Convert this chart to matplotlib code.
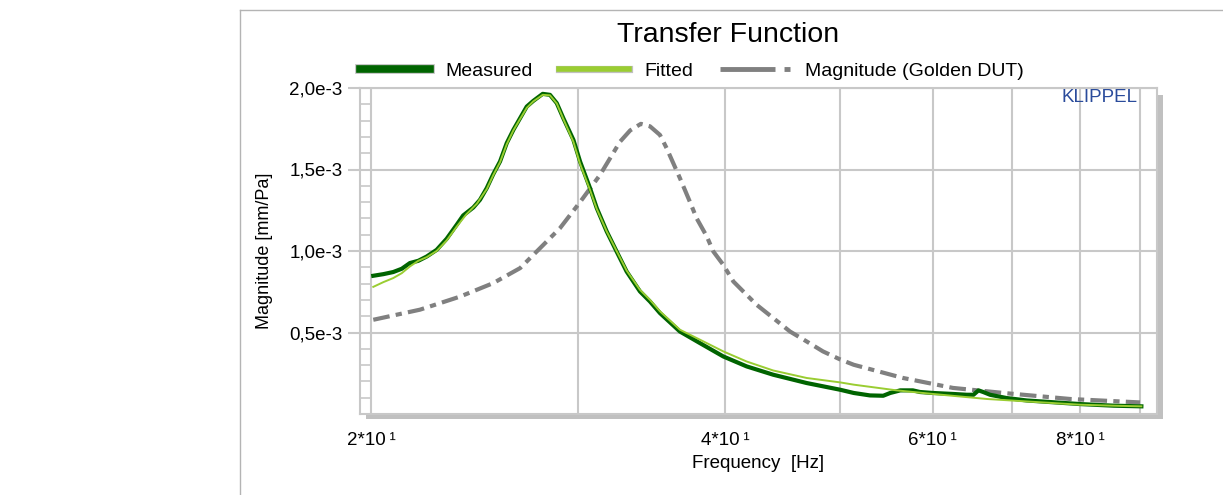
import numpy as np
import matplotlib
matplotlib.use("Agg")
import matplotlib.pyplot as plt
import matplotlib.patheffects as pe
from matplotlib.patches import Rectangle
from matplotlib.lines import Line2D
from matplotlib.ticker import FixedLocator, FixedFormatter, NullFormatter

plt.rcParams['font.family'] = ['Liberation Sans', 'DejaVu Sans']
plt.rcParams['lines.scale_dashes'] = False

# data (magnitude in 1e-3 mm/Pa)
meas_freq = [20.09, 20.49, 20.89, 21.24, 21.58, 21.94, 22.30, 22.74, 23.19, 23.65, 23.95, 24.43,
             24.75, 25.08, 25.40, 25.74, 26.08, 26.42, 26.77, 27.12, 27.47, 27.98, 28.38, 28.76,
             29.13, 29.71, 30.10, 30.69, 31.10, 31.71, 32.33, 32.97, 33.84, 34.51, 35.19, 36.59,
             38.05, 39.83, 41.69, 43.91, 46.88, 50.04, 51.4, 53.05, 54.45, 55.2, 56.3, 57.7,
             58.5, 60.0, 62.4, 64.1, 64.96, 65.6, 66.2, 67.1, 69.3, 72.1, 80.0, 85.4, 90.2]
meas_mag = [0.848, 0.858, 0.871, 0.891, 0.926, 0.940, 0.966, 1.007, 1.075, 1.161, 1.218, 1.267,
            1.314, 1.386, 1.471, 1.549, 1.662, 1.743, 1.815, 1.886, 1.921, 1.964, 1.958, 1.907,
            1.815, 1.682, 1.549, 1.386, 1.263, 1.12, 0.997, 0.874, 0.752, 0.69, 0.619, 0.506,
            0.435, 0.353, 0.292, 0.241, 0.19, 0.149, 0.129, 0.114, 0.112, 0.129, 0.145, 0.145,
            0.135, 0.129, 0.123, 0.118, 0.118, 0.145, 0.135, 0.118, 0.098, 0.083, 0.061, 0.051, 0.047]

fit_freq = [20.09, 20.49, 20.89, 21.24, 21.58, 21.94, 22.30, 22.74, 23.19, 23.65, 24.1, 24.6,
            25.08, 25.40, 25.74, 26.08, 26.42, 26.77, 27.12, 27.47, 27.98, 28.38, 28.76, 29.13,
            29.71, 30.10, 30.69, 31.10, 31.71, 32.33, 32.97, 33.84, 34.51, 35.19, 36.59, 38.05,
            39.83, 41.69, 43.91, 46.88, 50.04, 51.4, 55.9, 60.0, 66.7, 72.1, 80.0, 85.4, 90.2]
fit_mag = [0.780, 0.809, 0.834, 0.864, 0.905, 0.94, 0.962, 1.0, 1.065, 1.15, 1.225, 1.29,
           1.38, 1.465, 1.545, 1.655, 1.74, 1.81, 1.878, 1.918, 1.958, 1.955, 1.905, 1.81,
           1.67, 1.535, 1.375, 1.258, 1.12, 1.0, 0.88, 0.762, 0.70, 0.63, 0.517, 0.456,
           0.384, 0.322, 0.267, 0.221, 0.194, 0.18, 0.145, 0.123, 0.092, 0.077, 0.057, 0.051, 0.047]

gold_freq = [20.09, 22.01, 23.80, 25.40, 26.77, 27.84, 28.94, 30.10, 31.3, 32.55, 33.2, 33.9,
             34.51, 35.19, 35.65, 36.59, 37.32, 37.81, 38.56, 39.06, 39.83, 40.62, 41.69, 42.51,
             43.91, 45.38, 46.88, 48.4, 50.04, 51.4, 56.6, 62.4, 68.9, 78.5, 89.96]
gold_mag = [0.578, 0.64, 0.72, 0.803, 0.895, 1.018, 1.14, 1.30, 1.467, 1.671, 1.74, 1.78,
            1.765, 1.712, 1.631, 1.447, 1.30, 1.20, 1.09, 0.997, 0.915, 0.813, 0.731, 0.67,
            0.589, 0.506, 0.445, 0.384, 0.335, 0.302, 0.221, 0.16, 0.129, 0.092, 0.071]

x_major = [20, 40, 60, 80]
x_minor = [30, 50, 70, 90]
x_labels = ['2*10\u2009¹', '4*10\u2009¹', '6*10\u2009¹', '8*10\u2009¹']
y_major = [0.5e-3, 1.0e-3, 1.5e-3, 2.0e-3]
y_labels = ['0,5e-3', '1,0e-3', '1,5e-3', '2,0e-3']
y_minor = np.arange(1, 20) * 1e-4

W, H = 1223, 495
fig = plt.figure(figsize=(W / 100, H / 100), dpi=100)
ax = fig.add_axes([360 / W, 1 - 414 / H, 797 / W, 326 / H])

# drop shadow behind plot box
shadow = Rectangle((366 / W, 1 - 419 / H), 797 / W, 324 / H, transform=fig.transFigure,
                   facecolor='#c0c0c0', edgecolor='none', zorder=-1)
fig.add_artist(shadow)

# cell borders
fig.add_artist(Line2D([240 / W, 1], [1 - 10 / H, 1 - 10 / H], transform=fig.transFigure,
                      color='#b4b4b4', lw=1))
fig.add_artist(Line2D([240 / W, 240 / W], [0, 1 - 10 / H], transform=fig.transFigure,
                      color='#b4b4b4', lw=1))

gridc = '#c8c8c8'
ax.plot(gold_freq, np.array(gold_mag) * 1e-3, color='#808080', lw=3.0,
        linestyle=(0, (12, 4.5, 4.5, 4.5)), label='Magnitude (Golden DUT)', zorder=3)
ax.plot(meas_freq, np.array(meas_mag) * 1e-3, color='#006400', lw=3.0, label='Measured', zorder=4)
ax.plot(fit_freq, np.array(fit_mag) * 1e-3, color='#9acd32', lw=1.4, label='Fitted', zorder=5)

ax.set_xscale('log')
ax.set_xlim(19.575, 93.0)
ax.set_ylim(0, 2.0e-3)

ax.xaxis.set_major_locator(FixedLocator(x_major))
ax.xaxis.set_major_formatter(FixedFormatter(x_labels))
ax.xaxis.set_minor_locator(FixedLocator(x_minor))
ax.xaxis.set_minor_formatter(NullFormatter())
ax.yaxis.set_major_locator(FixedLocator(y_major))
ax.yaxis.set_major_formatter(FixedFormatter(y_labels))
ax.yaxis.set_minor_locator(FixedLocator(y_minor))

ax.grid(which='both', axis='x', color=gridc, lw=1.5)
ax.grid(which='major', axis='y', color=gridc, lw=1.5)
ax.set_axisbelow(True)

ax.tick_params(axis='x', which='both', length=0, pad=13, labelsize=13.5)
ax.tick_params(axis='y', which='major', direction='out', length=8.6, width=1.5, color=gridc,
               pad=4, labelsize=13.5)
ax.tick_params(axis='y', which='minor', direction='in', length=7.9, width=1.2, color=gridc)
for s in ax.spines.values():
    s.set_color(gridc)
    s.set_linewidth(1.5)

ax.set_xlabel('Frequency  [Hz]', fontsize=13.5, labelpad=4)
ax.set_ylabel('Magnitude [mm/Pa]', fontsize=13, labelpad=12)

ax.text(0.976, 0.972, 'KLIPPEL', transform=ax.transAxes, ha='right', va='center',
        fontsize=13.5, color='#2a4b9b')

fig.text(728 / W, 1 - 35 / H, 'Transfer Function', ha='center', va='center', fontsize=20.5)

handles, labels = ax.get_legend_handles_labels()
order = [1, 2, 0]
leg = ax.legend([handles[i] for i in order], [labels[i] for i in order], ncol=3,
                loc='center left', bbox_to_anchor=(360 / W, 1 - 71 / H),
                bbox_transform=fig.transFigure, frameon=False, fontsize=14,
                handlelength=3.6, handletextpad=0.77, columnspacing=1.39,
                borderpad=0, borderaxespad=0)
lh = leg.get_lines()
lh[0].set_linewidth(5.5)
lh[0].set_path_effects([pe.Stroke(linewidth=7, foreground='#c0c0c0'), pe.Normal()])
lh[1].set_linewidth(4)
lh[1].set_path_effects([pe.Stroke(linewidth=5.2, foreground='#c0c0c0'), pe.Normal()])
lh[2].set_linewidth(3.5)
lh[2].set_dashes([39.6, 6.5, 11.5, 6.5])

fig.savefig('out.png', dpi=100)
